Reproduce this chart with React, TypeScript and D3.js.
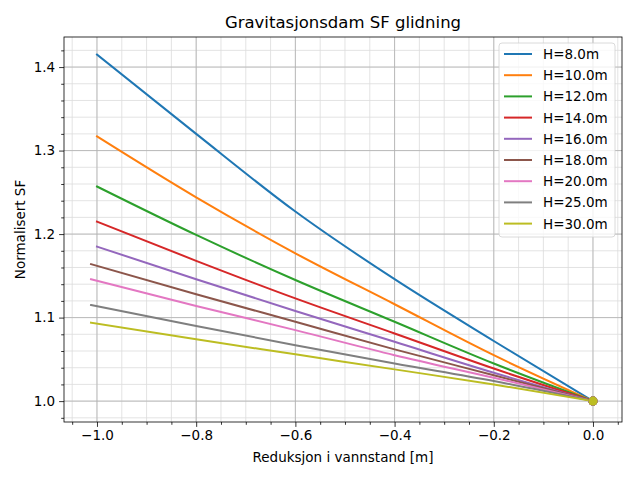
import React from "react";
import * as d3 from "d3";

const heights = ["H=8.0m", "H=10.0m", "H=12.0m", "H=14.0m", "H=16.0m", "H=18.0m", "H=20.0m", "H=25.0m", "H=30.0m"];
const colors = ["#1f77b4", "#ff7f0e", "#2ca02c", "#d62728", "#9467bd", "#8c564b", "#e377c2", "#7f7f7f", "#bcbd22"];
// reduction in water level; first value is -1.0 for the lower dams, -1.012 for the higher ones
const startX = [-1.0, -1.0, -1.0, -1.0, -1.0, -1.012, -1.012, -1.012, -1.012];
const midX = [-0.8, -0.6, -0.4, -0.2, 0.0];
// normalised SF at startX, then at midX
const sf8 = [1.415, 1.320, 1.227, 1.146, 1.072, 1.0];
const sf10 = [1.317, 1.244, 1.177, 1.116, 1.055, 1.0];
const sf12 = [1.257, 1.199, 1.145, 1.095, 1.045, 1.0];
const sf14 = [1.215, 1.168, 1.123, 1.081, 1.039, 1.0];
const sf16 = [1.185, 1.146, 1.108, 1.071, 1.034, 1.0];
const sf18 = [1.164, 1.128, 1.095, 1.062, 1.031, 1.0];
const sf20 = [1.146, 1.114, 1.085, 1.055, 1.028, 1.0];
const sf25 = [1.115, 1.090, 1.067, 1.045, 1.024, 1.0];
const sf30 = [1.094, 1.074, 1.056, 1.038, 1.020, 1.0];
const series = [sf8, sf10, sf12, sf14, sf16, sf18, sf20, sf25, sf30];
const xTicks = [-1.0, -0.8, -0.6, -0.4, -0.2, 0.0];
const yTicks = [1.0, 1.1, 1.2, 1.3, 1.4];

const W = 640;
const H = 480;
const left = 64;
const right = 622;
const top = 37;
const bottom = 422;

const App = () => {
  const ref = React.useRef<SVGSVGElement>(null);

  React.useEffect(() => {
    const svg = d3.select(ref.current);
    svg.selectAll("*").remove();

    const x = d3.scaleLinear().domain([-1.0665, 0.0585]).range([left, right]);
    const y = d3.scaleLinear().domain([0.975, 1.436]).range([bottom, top]);

    const xMinor = d3.range(-1.05, 0.051, 0.05).map(v => +v.toFixed(2));
    const yMinor = d3.range(0.98, 1.431, 0.02).map(v => +v.toFixed(2));

    const grid = svg.append("g");
    grid.selectAll(".xm").data(xMinor).join("line")
      .attr("x1", d => x(d)).attr("x2", d => x(d))
      .attr("y1", top).attr("y2", bottom)
      .attr("stroke", "#dcdcdc").attr("stroke-width", 0.8);
    grid.selectAll(".ym").data(yMinor).join("line")
      .attr("x1", left).attr("x2", right)
      .attr("y1", d => y(d)).attr("y2", d => y(d))
      .attr("stroke", "#dcdcdc").attr("stroke-width", 0.8);
    grid.selectAll(".xM").data(xTicks).join("line")
      .attr("x1", d => x(d)).attr("x2", d => x(d))
      .attr("y1", top).attr("y2", bottom)
      .attr("stroke", "#b0b0b0").attr("stroke-width", 0.8);
    grid.selectAll(".yM").data(yTicks).join("line")
      .attr("x1", left).attr("x2", right)
      .attr("y1", d => y(d)).attr("y2", d => y(d))
      .attr("stroke", "#b0b0b0").attr("stroke-width", 0.8);

    const line = d3.line<[number, number]>()
      .x(d => x(d[0])).y(d => y(d[1]))
      .curve(d3.curveMonotoneX);
    series.forEach((vals, i) => {
      const xs = [startX[i], ...midX];
      const pts = vals.map((v, j) => [xs[j], v] as [number, number]);
      svg.append("path")
        .datum(pts)
        .attr("d", line)
        .attr("fill", "none")
        .attr("stroke", colors[i])
        .attr("stroke-width", 2)
        .attr("stroke-linecap", "square");
    });
    series.forEach((vals, i) => {
      svg.append("circle")
        .attr("cx", x(midX[midX.length - 1])).attr("cy", y(vals[vals.length - 1])).attr("r", 4.5)
        .attr("fill", colors[i]);
    });

    const fmt = (v: number) => d3.format(".1f")(v).replace("-", "\u2212");

    const xAxis = svg.append("g").attr("transform", `translate(0,${bottom})`)
      .call(d3.axisBottom(x).tickValues(xTicks).tickFormat(d => fmt(+d)).tickSize(4.9).tickPadding(4));
    svg.append("g").attr("transform", `translate(0,${bottom})`)
      .call(d3.axisBottom(x).tickValues(xMinor.filter(v => !xTicks.some(t => Math.abs(t - v) < 1e-6))).tickFormat(() => "").tickSize(2.8))
      .call(g => g.select(".domain").remove());
    const yAxis = svg.append("g").attr("transform", `translate(${left},0)`)
      .call(d3.axisLeft(y).tickValues(yTicks).tickFormat(d => fmt(+d)).tickSize(4.9).tickPadding(4));
    svg.append("g").attr("transform", `translate(${left},0)`)
      .call(d3.axisLeft(y).tickValues(yMinor.filter(v => !yTicks.some(t => Math.abs(t - v) < 1e-6))).tickFormat(() => "").tickSize(2.8))
      .call(g => g.select(".domain").remove());

    [xAxis, yAxis].forEach(g => {
      g.select(".domain").remove();
      g.selectAll("text").attr("font-size", 13.5).attr("font-family", "DejaVu Sans").attr("fill", "#000");
    });
    svg.selectAll(".tick line").attr("stroke", "#000").attr("stroke-width", 0.8);

    svg.append("rect")
      .attr("x", left).attr("y", top).attr("width", right - left).attr("height", bottom - top)
      .attr("fill", "none").attr("stroke", "#000").attr("stroke-width", 0.8);

    svg.append("text")
      .attr("x", (left + right) / 2).attr("y", 28)
      .attr("text-anchor", "middle").attr("font-size", 16.5).attr("font-family", "DejaVu Sans")
      .text("Gravitasjonsdam SF glidning");
    svg.append("text")
      .attr("x", (left + right) / 2).attr("y", 462)
      .attr("text-anchor", "middle").attr("font-size", 13.5).attr("font-family", "DejaVu Sans")
      .text("Reduksjon i vannstand [m]");
    svg.append("text")
      .attr("transform", `translate(25,${(top + bottom) / 2}) rotate(-90)`)
      .attr("text-anchor", "middle").attr("font-size", 13.5).attr("font-family", "DejaVu Sans")
      .text("Normalisert SF");

    const lg = svg.append("g").attr("transform", "translate(499,43)");
    lg.append("rect")
      .attr("width", 116).attr("height", 194).attr("rx", 3)
      .attr("fill", "#fff").attr("fill-opacity", 0.8)
      .attr("stroke", "#d0d0d0").attr("stroke-width", 0.8);
    heights.forEach((h, i) => {
      const cy = 11 + i * 21.2;
      lg.append("line")
        .attr("x1", 5).attr("x2", 33).attr("y1", cy).attr("y2", cy)
        .attr("stroke", colors[i]).attr("stroke-width", 2);
      lg.append("text")
        .attr("x", 44).attr("y", cy + 5)
        .attr("font-size", 13.5).attr("font-family", "DejaVu Sans")
        .text(h);
    });
  }, []);

  return <svg ref={ref} width={W} height={H} style={{ position: "absolute", left: 0, top: 0, background: "#fff" }} />;
};

export default App;
